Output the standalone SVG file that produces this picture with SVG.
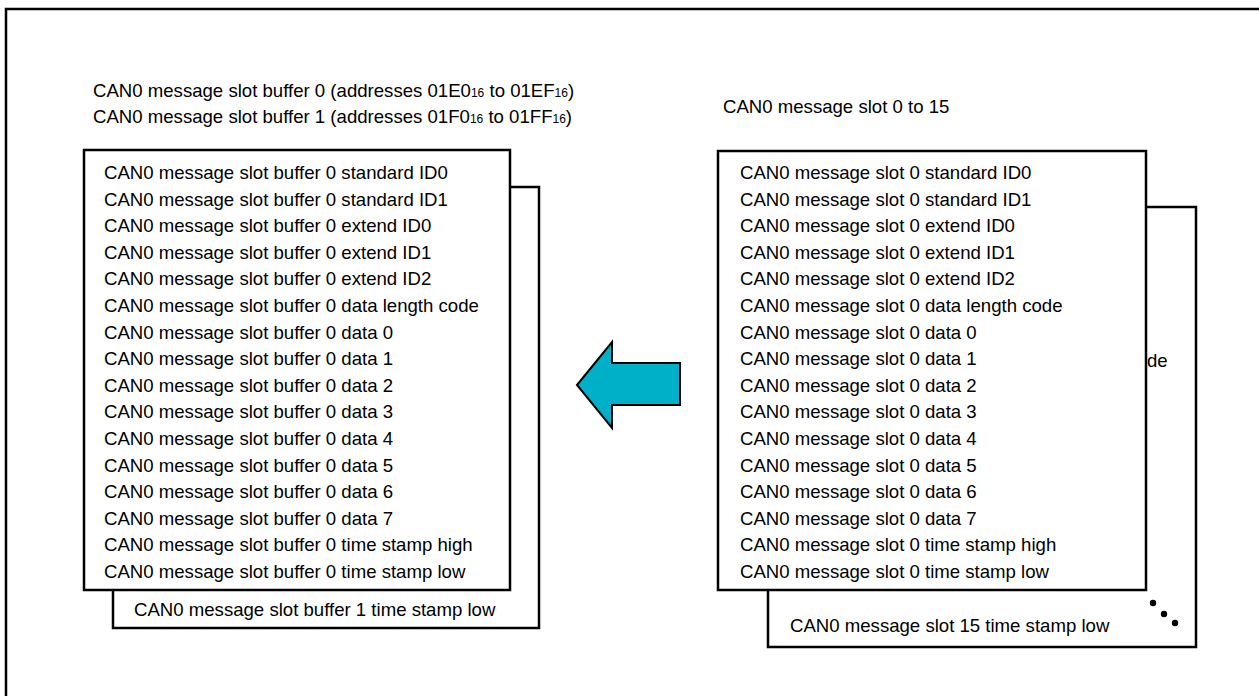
<svg xmlns="http://www.w3.org/2000/svg" width="1259" height="696" viewBox="0 0 1259 696">
<style>
  .t { font-family: "Liberation Sans", Arial, sans-serif; font-size: 18.6px; fill: #000; }
  .s { font-size: 12px; }
  .box { fill: #fff; stroke: #000; stroke-width: 2.5; }
</style>
<rect width="1259" height="696" fill="#fff"/>
<rect id="frame" x="6" y="9" width="1270" height="700" fill="none" stroke="#000" stroke-width="2.5"/>

<g id="headers">
  <text class="t" x="93" y="97">CAN0 message slot buffer 0 (addresses 01E0<tspan class="s">16</tspan> to 01EF<tspan class="s">16</tspan>)</text>
  <text class="t" x="93" y="123">CAN0 message slot buffer 1 (addresses 01F0<tspan class="s">16</tspan> to 01FF<tspan class="s">16</tspan>)</text>
  <text class="t" x="723" y="113">CAN0 message slot 0 to 15</text>
</g>

<g id="buffer1">
  <rect class="box" x="113" y="187" width="426" height="441"/>
  <text class="t" x="134" y="616">CAN0 message slot buffer 1 time stamp low</text>
</g>
<g id="buffer0">
  <rect class="box" x="84" y="150" width="426" height="440"/>
  <text class="t" x="104" y="179">CAN0 message slot buffer 0 standard ID0</text>
  <text class="t" x="104" y="205.6">CAN0 message slot buffer 0 standard ID1</text>
  <text class="t" x="104" y="232.2">CAN0 message slot buffer 0 extend ID0</text>
  <text class="t" x="104" y="258.8">CAN0 message slot buffer 0 extend ID1</text>
  <text class="t" x="104" y="285.4">CAN0 message slot buffer 0 extend ID2</text>
  <text class="t" x="104" y="312">CAN0 message slot buffer 0 data length code</text>
  <text class="t" x="104" y="338.6">CAN0 message slot buffer 0 data 0</text>
  <text class="t" x="104" y="365.2">CAN0 message slot buffer 0 data 1</text>
  <text class="t" x="104" y="391.8">CAN0 message slot buffer 0 data 2</text>
  <text class="t" x="104" y="418.4">CAN0 message slot buffer 0 data 3</text>
  <text class="t" x="104" y="445">CAN0 message slot buffer 0 data 4</text>
  <text class="t" x="104" y="471.6">CAN0 message slot buffer 0 data 5</text>
  <text class="t" x="104" y="498.2">CAN0 message slot buffer 0 data 6</text>
  <text class="t" x="104" y="524.8">CAN0 message slot buffer 0 data 7</text>
  <text class="t" x="104" y="551.4">CAN0 message slot buffer 0 time stamp high</text>
  <text class="t" x="104" y="578">CAN0 message slot buffer 0 time stamp low</text>
</g>

<g id="slot15">
  <rect class="box" x="768" y="207" width="428" height="440"/>
  <text class="t" x="1147" y="367">de</text>
  <text class="t" x="790" y="632">CAN0 message slot 15 time stamp low</text>
  <circle cx="1153" cy="603" r="3.2" fill="#000"/>
  <circle cx="1164" cy="614" r="3.2" fill="#000"/>
  <circle cx="1175" cy="623" r="3.2" fill="#000"/>
</g>
<g id="slot0">
  <rect class="box" x="718" y="151" width="428" height="439"/>
  <text class="t" x="740" y="179">CAN0 message slot 0 standard ID0</text>
  <text class="t" x="740" y="205.6">CAN0 message slot 0 standard ID1</text>
  <text class="t" x="740" y="232.2">CAN0 message slot 0 extend ID0</text>
  <text class="t" x="740" y="258.8">CAN0 message slot 0 extend ID1</text>
  <text class="t" x="740" y="285.4">CAN0 message slot 0 extend ID2</text>
  <text class="t" x="740" y="312">CAN0 message slot 0 data length code</text>
  <text class="t" x="740" y="338.6">CAN0 message slot 0 data 0</text>
  <text class="t" x="740" y="365.2">CAN0 message slot 0 data 1</text>
  <text class="t" x="740" y="391.8">CAN0 message slot 0 data 2</text>
  <text class="t" x="740" y="418.4">CAN0 message slot 0 data 3</text>
  <text class="t" x="740" y="445">CAN0 message slot 0 data 4</text>
  <text class="t" x="740" y="471.6">CAN0 message slot 0 data 5</text>
  <text class="t" x="740" y="498.2">CAN0 message slot 0 data 6</text>
  <text class="t" x="740" y="524.8">CAN0 message slot 0 data 7</text>
  <text class="t" x="740" y="551.4">CAN0 message slot 0 time stamp high</text>
  <text class="t" x="740" y="578">CAN0 message slot 0 time stamp low</text>
</g>

<g id="connectors">
  <polygon points="577,385 612,342 612,363 680,363 680,405 612,405 612,428" fill="#00B0C8" stroke="#000" stroke-width="2"/>
</g>
</svg>
